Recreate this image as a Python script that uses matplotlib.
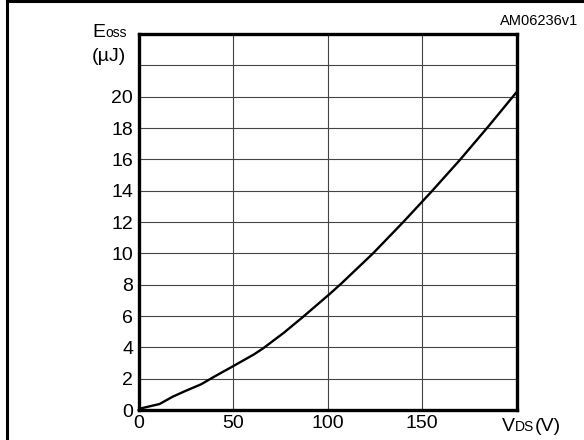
import matplotlib
matplotlib.use('Agg')
import matplotlib.pyplot as plt
from matplotlib.lines import Line2D

plt.rcParams['font.family'] = ['Liberation Sans', 'DejaVu Sans']

# Eoss vs VDS curve
vds = [0, 1, 11, 18, 25, 33, 40, 50, 61, 66, 77, 87, 101, 107, 124, 140, 155, 170, 185, 200]
eoss = [0, 0.1, 0.38, 0.85, 1.23, 1.64, 2.13, 2.8, 3.55, 3.95, 4.95, 5.95, 7.4, 8.05,
        10.0, 12.0, 13.95, 15.97, 18.1, 20.3]

x_ticks = [0, 50, 100, 150, 200]
x_labels = ['0', '50', '100', '150', '']
y_ticks = list(range(0, 25, 2))
y_labels = [str(v) if v <= 20 else '' for v in y_ticks]

W, H = 584, 440
fig = plt.figure(figsize=(W / 100, H / 100), dpi=100)
ax = fig.add_axes([138.7 / W, 30 / H, (516.7 - 138.7) / W, (410 - 34) / H])

ax.plot(vds, eoss, color='black', lw=1.7, clip_on=False, zorder=3)

ax.set_xlim(0, 200)
ax.set_ylim(0, 24)
ax.set_xticks(x_ticks)
ax.set_xticklabels(x_labels)
ax.set_yticks(y_ticks)
ax.set_yticklabels(y_labels)
ax.tick_params(length=0, labelsize=14, colors='black')
ax.tick_params(axis='y', pad=4)
ax.tick_params(axis='x', pad=3.5)
ax.grid(True, color='#444444', lw=0.8)
ax.set_axisbelow(True)
for s in ax.spines.values():
    s.set_linewidth(2.4)
    s.set_color('black')

# outer frame (top and left edge)
fig.add_artist(Line2D([7 / W, 1], [1 - 1.2 / H, 1 - 1.2 / H], color='black', lw=2.2,
                      transform=fig.transFigure))
fig.add_artist(Line2D([7 / W, 7 / W], [0, 1 - 1.2 / H], color='black', lw=2.2,
                      transform=fig.transFigure))

def px(x, y):
    return x / W, 1 - y / H

# labels with smaller subscript-like parts on the same baseline
fig.canvas.draw()
r = fig.canvas.get_renderer()

t = fig.text(*px(92, 37), 'E', fontsize=14, va='baseline', ha='left')
bb = t.get_window_extent(r)
fig.text(bb.x1 / W, 1 - 37 / H, 'oss', fontsize=10, va='baseline', ha='left')
fig.text(*px(92, 61), '(\u00b5J)', fontsize=14, va='baseline', ha='left')

t = fig.text(*px(502, 431), 'V', fontsize=14, va='baseline', ha='left')
bb = t.get_window_extent(r)
t2 = fig.text(bb.x1 / W, 1 - 431 / H, 'DS', fontsize=10, va='baseline', ha='left')
bb2 = t2.get_window_extent(r)
fig.text(bb2.x1 / W, 1 - 431 / H, '(V)', fontsize=14, va='baseline', ha='left')

fig.text(*px(578, 25), 'AM06236v1', fontsize=10.5, va='baseline', ha='right')

fig.savefig('out.png', dpi=100)
